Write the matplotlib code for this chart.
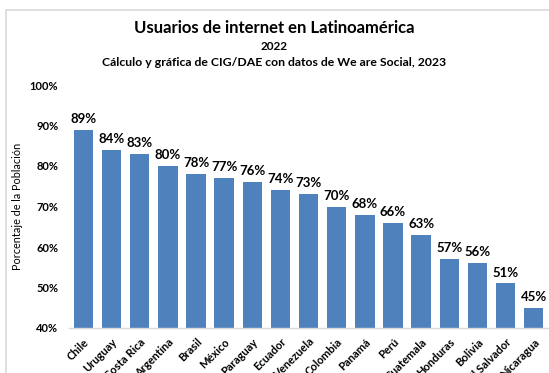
import matplotlib
matplotlib.use("Agg")
import matplotlib.pyplot as plt
from matplotlib.patches import Rectangle

countries = ["Chile", "Uruguay", "Costa Rica", "Argentina", "Brasil", "México", "Paraguay",
             "Ecuador", "Venezuela", "Colombia", "Panamá", "Perú", "Guatemala", "Honduras",
             "Bolivia", "El Salvador", "Nicaragua"]
values = [89, 84, 83, 80, 78, 77, 76, 74, 73, 70, 68, 66, 63, 57, 56, 51, 45]
yticks = [40, 50, 60, 70, 80, 90, 100]

plt.rcParams['font.family'] = ['Lato', 'DejaVu Sans']

W, H = 549, 373
fig = plt.figure(figsize=(W/100, H/100), dpi=100)
fig.patch.set_facecolor("white")

# outer chart frame (cropped on right/bottom)
fig.add_artist(Rectangle((6/W, -0.1), 1.2, 1 - 10/H + 0.1, transform=fig.transFigure,
                         fill=False, edgecolor="#d9d9d9", linewidth=1.2))

ax = fig.add_axes([69.4/W, 1 - 328/H, (547.8-69.4)/W, (328-85)/H])
x = list(range(len(countries)))
bars = ax.bar(x, values, width=0.69, color="#4f81bd", bottom=0)
ax.set_ylim(40, 100)
ax.set_xlim(-0.5, len(countries) - 0.5)
ax.set_yticks(yticks)
ax.set_yticklabels([f"{v}%" for v in yticks], fontsize=8, fontweight="bold")
ax.set_xticks(x)
ax.set_xticklabels(countries, rotation=45, ha="right", rotation_mode="anchor",
                   fontsize=8, fontweight="bold")
ax.tick_params(axis="x", length=0, pad=6)
ax.tick_params(axis="y", length=0, pad=8)
for s in ["top", "right", "left"]:
    ax.spines[s].set_visible(False)
ax.spines["bottom"].set_color("#d9d9d9")
ax.spines["bottom"].set_linewidth(1)

for xi, v in zip(x, values):
    ax.text(xi, v + 1.2, f"{v}%", ha="center", va="bottom", fontsize=9.5, fontweight="bold")

ax.set_ylabel("Porcentaje de la Población", fontsize=7.8, labelpad=5)

fig.text(0.5, 1 - 28/H, "Usuarios de internet en Latinoamérica", ha="center", va="center",
         fontsize=12, fontweight="bold")
fig.text(0.5, 1 - 47/H, "2022", ha="center", va="center", fontsize=8.5, fontweight="bold")
fig.text(0.5, 1 - 63/H, "Cálculo y gráfica de CIG/DAE con datos de We are Social, 2023",
         ha="center", va="center", fontsize=8.8, fontweight="bold")

fig.savefig("out.png", dpi=100)
